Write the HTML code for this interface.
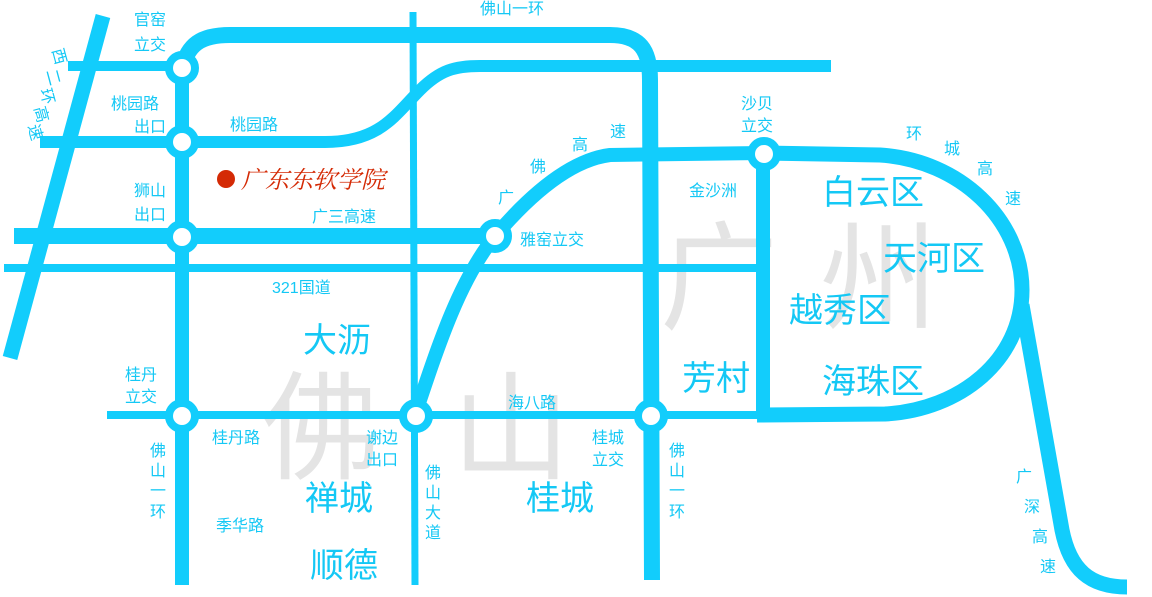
<!DOCTYPE html>
<html><head><meta charset="utf-8"><style>
html,body{margin:0;padding:0;background:#fff}
svg{display:block}
text{font-family:"Liberation Sans","Noto Sans CJK SC",sans-serif;fill:#14c8f5}
.g{fill:#e4e4e4}
</style></head><body>
<svg width="1152" height="597" viewBox="0 0 1152 597" xmlns="http://www.w3.org/2000/svg">
<text class="g" x="262" y="470" font-size="118">佛</text>
<text class="g" x="452" y="470" font-size="118">山</text>
<text class="g" x="660" y="320" font-size="118">广</text>
<text class="g" x="820" y="320" font-size="118">州</text>

<g fill="none" stroke="#12cdfc" stroke-linecap="butt">
<line x1="103" y1="16" x2="10" y2="358" stroke-width="15"/>
<line x1="182" y1="68" x2="182" y2="585" stroke-width="14"/>
<path d="M182 68 C188 45 200 35 230 35 L610 35 C640 35 650 50 650 80 L652 580" stroke-width="16"/>
<line x1="68" y1="66" x2="182" y2="66" stroke-width="10"/>
<path d="M40 142 L325 142 C380 142 395 115 420 90 C440 70 455 66 480 66 L831 66" stroke-width="12"/>
<line x1="413" y1="12" x2="415" y2="585" stroke-width="7"/>
<line x1="14" y1="236" x2="495" y2="236" stroke-width="16"/>
<line x1="4" y1="268" x2="760" y2="268" stroke-width="8"/>
<line x1="107" y1="415" x2="765" y2="415" stroke-width="8"/>
<path d="M415 415 C440 340 460 280 495 236 C530 195 570 160 610 155 L763 153" stroke-width="14"/>
<line x1="763" y1="153" x2="763" y2="416" stroke-width="14"/>
<path d="M763 153 L880 155 C960 160 1022 220 1022 290 C1022 360 960 410 885 414 L757 415" stroke-width="15"/>
<path d="M1022 305 L1062 530 C1070 570 1090 587 1127 587" stroke-width="15"/>
</g>

<g fill="#fff" stroke="#12cdfc" stroke-width="8">
<circle cx="182" cy="68" r="13"/>
<circle cx="182" cy="142" r="13"/>
<circle cx="182" cy="237" r="13"/>
<circle cx="495" cy="236" r="13"/>
<circle cx="182" cy="416" r="13"/>
<circle cx="416" cy="416" r="13"/>
<circle cx="651" cy="416" r="13"/>
<circle cx="764" cy="154" r="13"/>
</g>

<circle cx="226" cy="179" r="9" fill="#d42a05"/>
<text x="241" y="188" font-size="24" style="fill:#d42a05;font-family:'Noto Serif CJK SC',serif;font-style:italic">广东东软学院</text>

<g font-size="16">
<text x="134" y="25">官窑</text>
<text x="134" y="50">立交</text>
<text x="111" y="109">桃园路</text>
<text x="134" y="132">出口</text>
<text x="230" y="130">桃园路</text>
<text x="134" y="196">狮山</text>
<text x="134" y="220">出口</text>
<text x="312" y="222">广三高速</text>
<text x="272" y="293">321国道</text>
<text x="480" y="14">佛山一环</text>
<text x="520" y="245">雅窑立交</text>
<text x="498" y="203">广</text>
<text x="530" y="172">佛</text>
<text x="572" y="150">高</text>
<text x="610" y="137">速</text>
<text x="741" y="109">沙贝</text>
<text x="741" y="131">立交</text>
<text x="689" y="196">金沙洲</text>
<text x="906" y="139">环</text>
<text x="944" y="154">城</text>
<text x="977" y="174">高</text>
<text x="1005" y="204">速</text>
<text x="125" y="380">桂丹</text>
<text x="125" y="402">立交</text>
<text x="212" y="443">桂丹路</text>
<text x="366" y="443">谢边</text>
<text x="366" y="465">出口</text>
<text x="508" y="408">海八路</text>
<text x="592" y="443">桂城</text>
<text x="592" y="465">立交</text>
<text x="216" y="531">季华路</text>
<text x="1016" y="482">广</text>
<text x="1024" y="512">深</text>
<text x="1032" y="542">高</text>
<text x="1040" y="572">速</text>
</g>
<g font-size="16">
<text x="150" y="456">佛</text><text x="150" y="476">山</text><text x="150" y="496">一</text><text x="150" y="517">环</text>
<text x="425" y="478">佛</text><text x="425" y="498">山</text><text x="425" y="518">大</text><text x="425" y="538">道</text>
<text x="669" y="456">佛</text><text x="669" y="476">山</text><text x="669" y="496">一</text><text x="669" y="517">环</text>
</g>
<g font-size="16">
<text transform="translate(52,50) rotate(75)">西</text>
<text transform="translate(46,71) rotate(75)">二</text>
<text transform="translate(40,90) rotate(75)">环</text>
<text transform="translate(34,108) rotate(75)">高</text>
<text transform="translate(28,126) rotate(75)">速</text>
</g>
<g font-size="34">
<text x="303" y="352">大沥</text>
<text x="305" y="510">禅城</text>
<text x="526" y="510">桂城</text>
<text x="310" y="577">顺德</text>
<text x="682" y="390">芳村</text>
<text x="822" y="204">白云区</text>
<text x="883" y="270">天河区</text>
<text x="789" y="322">越秀区</text>
<text x="822" y="393">海珠区</text>
</g>
</svg>
</body></html>
